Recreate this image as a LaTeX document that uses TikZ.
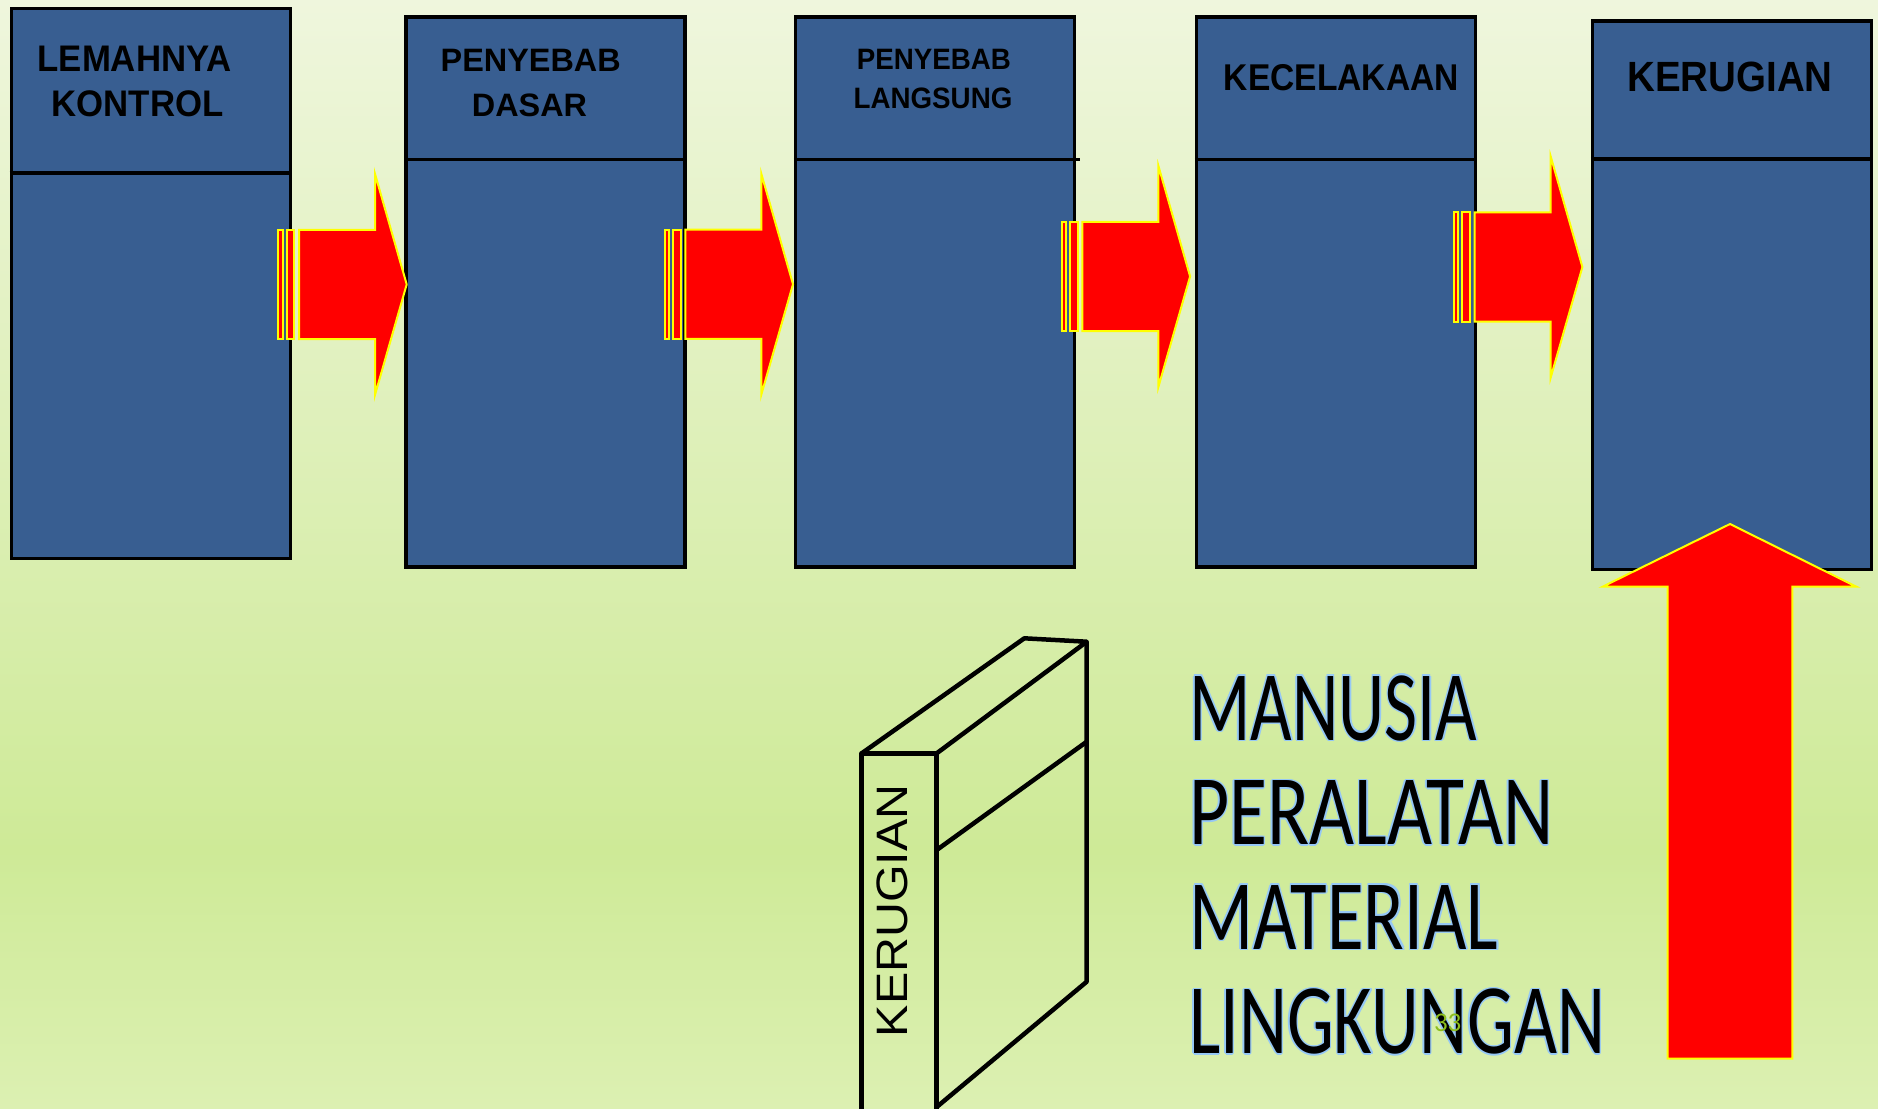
\documentclass[tikz,border=0pt]{standalone}
\usepackage{fontspec}
\setmainfont{Liberation Sans}
\newfontfamily\listfont{Carlito}
\usepackage{graphicx}

\definecolor{boxblue}{RGB}{56,94,145}
\definecolor{bgtop}{RGB}{239,246,221}
\definecolor{bgmid}{RGB}{206,234,151}
\definecolor{bgbot}{RGB}{220,240,178}
\definecolor{glow}{RGB}{150,200,245}
\definecolor{slidenum}{RGB}{140,190,30}
\definecolor{arrowred}{RGB}{255,0,0}
\definecolor{arrowedge}{RGB}{255,255,0}

\newcommand\tfont[1]{\fontsize{#1}{#1}\selectfont\bfseries}
\newcommand\listblock{{\listfont\fontsize{99.7}{104.5}\selectfont
  \begin{tabular}[t]{@{}l@{}}\scalebox{0.72}[1]{MANUSIA}\\
    \scalebox{0.78}[1]{PERALATAN}\\
    \scalebox{0.752}[1]{MATERIAL}\\
    \scalebox{0.745}[1]{LINGKUNGAN}\end{tabular}}}

\tikzset{
  panel/.style={draw=black, line width=3.5pt, fill=boxblue, inner sep=0pt,
    minimum width=279pt, minimum height=550pt},
  divider/.style={draw=black, line width=3.5pt},
  title/.style={inner sep=0pt, anchor=base, text=black},
  arrowpart/.style={fill=arrowred, draw=arrowedge, line width=2pt, line join=miter},
  bookline/.style={draw=black, line width=4.5pt, line join=round},
  flowarrow/.pic={
    \path[arrowpart] (0,-54.6) rectangle (4.4,54.6);
    \path[arrowpart] (8.4,-54.6) rectangle (16,54.6);
    \path[arrowpart] (20.7,-54.6) -- (96.7,-54.6) -- (96.7,-110.5) -- (128.4,0)
      -- (96.7,110.5) -- (96.7,54.6) -- (20.7,54.6) -- cycle;
  }
}

\begin{document}
\begin{tikzpicture}[x=1pt,y=-1pt]
\useasboundingbox (0,0) rectangle (1878,1108);

% background gradient
\shade[top color=bgtop, bottom color=bgmid] (0,0) rectangle (1878,851);
\shade[top color=bgmid, bottom color=bgbot] (0,850) rectangle (1878,1108);

% the five stages
\node[panel, minimum height=550.2pt] (b1) at (150.8,283.4) {};
\node[panel] (b2) at (545.5,292) {};
\node[panel] (b3) at (935.2,292.2) {};
\node[panel] (b4) at (1336.2,292) {};
\node[panel, minimum height=548.5pt] (b5) at (1732,295.2) {};

\draw[divider] (b1.north west) ++(0,166.4) -- ++(279,0);
\draw[divider] (b2.north west) ++(0,144) -- ++(279,0);
\draw[divider] (b3.north west) ++(0,144.2) -- ++(286,0);
\draw[divider] (b4.north west) ++(0,144) -- ++(279,0);
\draw[divider] (b5.north west) ++(0,140) -- ++(279,0);

% stage titles
\node[title, font=\tfont{37}] (t1a) at (134.5,71.7) {\scalebox{0.94}[1]{LEMAHNYA}};
\node[title, font=\tfont{37}] (t1b) at (137.5,116.7) {\scalebox{0.94}[1]{KONTROL}};
\node[title, font=\tfont{32.4}] (t2a) at (530.7,71.7) {PENYEBAB};
\node[title, font=\tfont{32.4}] (t2b) at (529.5,116.7) {DASAR};
\node[title, font=\tfont{29.5}] (t3a) at (933.8,70) {\scalebox{0.94}[1]{PENYEBAB}};
\node[title, font=\tfont{29.5}] (t3b) at (933,108.3) {\scalebox{0.94}[1]{LANGSUNG}};
\node[title, font=\tfont{37.3}] (t4) at (1341.3,90) {\scalebox{0.9}[1]{KECELAKAAN}};
\node[title, font=\tfont{42.3}] (t5) at (1730,91) {\scalebox{0.91}[1]{KERUGIAN}};

% arrows between the stages
\pic (a1) at (278.3,284.4) {flowarrow};
\pic (a2) at (664.6,284.2) {flowarrow};
\pic (a3) at (1061.7,276.4) {flowarrow};
\pic (a4) at (1454,267) {flowarrow};

% upward arrow into the last stage
\path[arrowpart] (1667.7,1058.7) -- (1667.7,586.5) -- (1603,586.5) -- (1730,524)
  -- (1856,586.5) -- (1792.3,586.5) -- (1792.3,1058.7) -- cycle;

% the book
\coordinate (spTL) at (861.7,753.3);
\coordinate (spTR) at (936.7,753.3);
\coordinate (bkTL) at (1024.3,638.3);
\coordinate (bkTR) at (1086.7,641.7);
\coordinate (bkBR) at (1086.7,981.7);
\coordinate (spBR) at (936.7,1107);
\coordinate (spBL) at (861.7,1112);
\coordinate (spMid) at (936.7,850);
\coordinate (bkMid) at (1086.7,741.7);
\draw[bookline] (spBL) -- (spTL) -- (spTR) -- (spBR |- spBL);
\draw[bookline] (spTL) -- (bkTL) -- (bkTR) -- (spTR);
\draw[bookline] (bkTR) -- (bkBR) -- (spBR);
\draw[bookline] (spMid) -- (bkMid);
\node[rotate=90, inner sep=0pt, font=\fontsize{44}{44}\selectfont] (spine)
  at (892.5,910.8) {\scalebox{1.1}[1]{KERUGIAN}};

% list of losses, with a light outline
\foreach \dx/\dy [count=\k] in {1.5/0,-1.5/0,0/1.5,0/-1.5,1.05/1.05,-1.05/1.05,1.05/-1.05,-1.05/-1.05}
  \node[anchor=base west, inner sep=0pt, text=glow, xshift=\dx pt, yshift=\dy pt]
    (glow\k) at (1189,740) {\listblock};
\node[anchor=base west, inner sep=0pt, text=black] (items) at (1189,740) {\listblock};

\node[text=slidenum, inner sep=0pt, font=\listfont\fontsize{27}{27}\selectfont]
  (pagenum) at (1447.7,1022.5) {33};
\end{tikzpicture}
\end{document}
